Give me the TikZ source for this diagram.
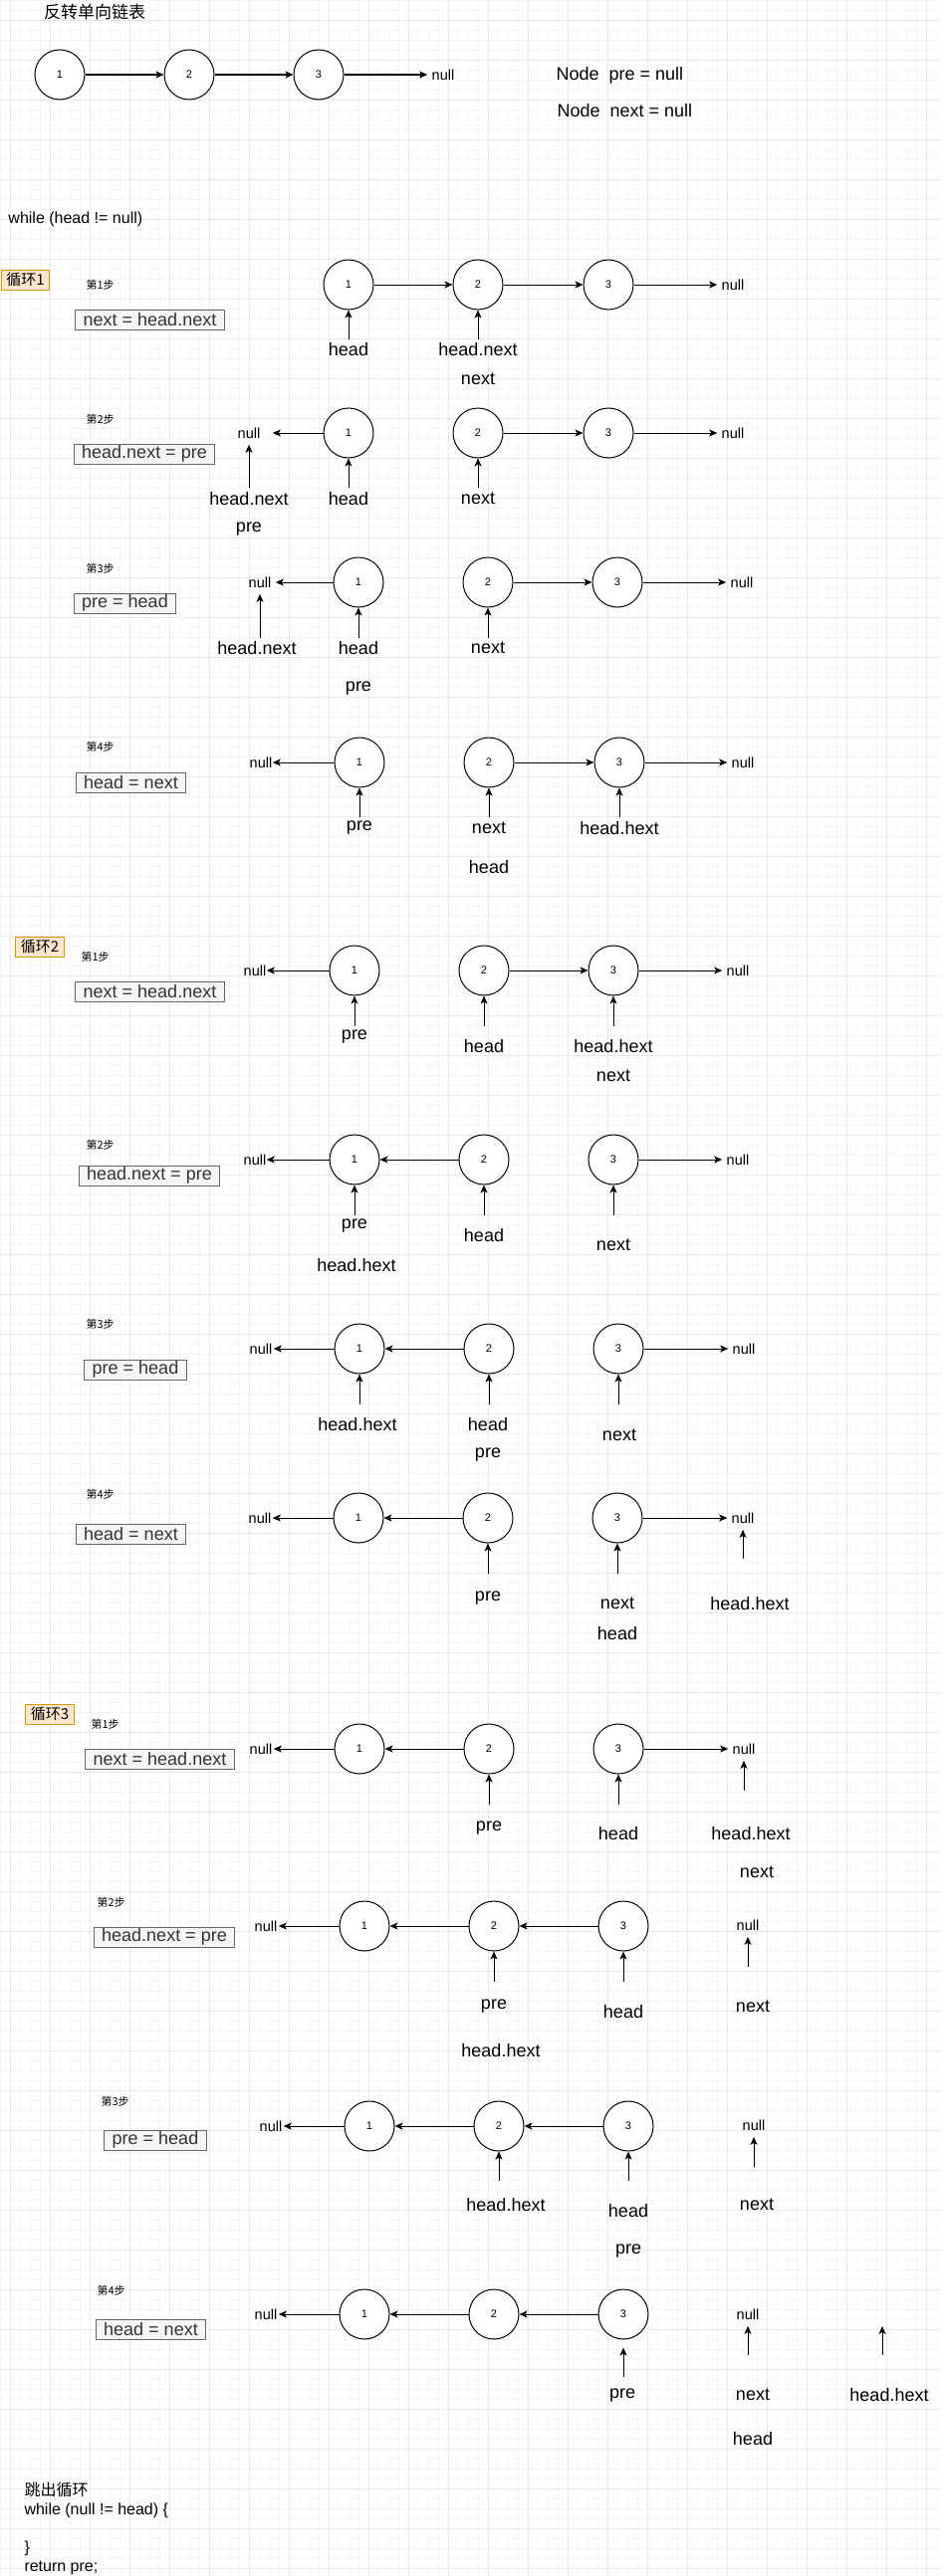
\documentclass[tikz,border=0pt]{standalone}
\usepackage{fontspec}
\setmainfont{Liberation Sans}
\newfontfamily\cjk{Noto Sans CJK SC}
\usetikzlibrary{arrows.meta}

\definecolor{gridminor}{HTML}{F5F5F5}
\definecolor{gridmajor}{HTML}{E8E8E8}
\definecolor{loopfill}{HTML}{FFE6CC}
\definecolor{loopline}{HTML}{D79B00}
\definecolor{codefill}{HTML}{F5F5F5}
\definecolor{codeline}{HTML}{666666}
\definecolor{codetext}{HTML}{333333}

\begin{document}
\begin{tikzpicture}[x=1pt, y=-1pt, line width=1pt,
    lnode/.style={circle, draw, fill=white, minimum size=50pt, inner sep=0pt, font=\fontsize{11}{13}\selectfont},
    link/.style={-{Stealth[length=8pt,width=7pt,inset=2pt]}},
    nullnode/.style={inner xsep=4pt, inner ysep=2pt, font=\fontsize{14.5}{17}\selectfont},
    lbl/.style={inner sep=1pt, font=\fontsize{18}{21}\selectfont},
    stepno/.style={anchor=west, inner sep=0pt, font=\cjk\fontsize{11}{13}\selectfont},
    codebox/.style={draw=codeline, fill=codefill, text=codetext, inner xsep=8pt, inner ysep=0pt, minimum height=20pt, font=\fontsize{18}{21}\selectfont},
    loopbox/.style={draw=loopline, fill=loopfill, inner xsep=5pt, inner ysep=0pt, minimum height=20pt, font=\cjk\fontsize{15}{18}\selectfont},
    plaintext/.style={anchor=west, inner sep=0pt, font=\fontsize{16}{19}\selectfont}]
    \useasboundingbox (0,0) rectangle (946,2588);

    % draw background grid
    \fill[white] (0,0) rectangle (946,2588);
    \foreach \gx in {0,10,...,940} \draw[gridminor, line width=0.6pt] (\gx,0) -- (\gx,2588);
    \foreach \gy in {0,10,...,2580} \draw[gridminor, line width=0.6pt] (0,\gy) -- (946,\gy);
    \foreach \gx in {10,50,...,930} \draw[gridmajor, line width=0.6pt] (\gx,0) -- (\gx,2588);
    \foreach \gy in {20,60,...,2580} \draw[gridmajor, line width=0.6pt] (0,\gy) -- (946,\gy);

    % draw title and start list
    \node[inner sep=0pt, font=\cjk\fontsize{17}{20}\selectfont] (title) at (95,12) {反转单向链表};
    \node[lnode] (c0a) at (60,75) {1};
    \node[lnode] (c0b) at (190,75) {2};
    \node[lnode] (c0c) at (320,75) {3};
    \node[nullnode] (c0null) at (445,75) {null};
    \draw[link] (c0a) -- (c0b);
    \draw[link] (c0b) -- (c0c);
    \draw[link] (c0c) -- (c0null);
    \node[plaintext, font=\fontsize{18}{21}\selectfont] (prevar) at (558,76) {Node\ \ pre = null};
    \node[plaintext, font=\fontsize{18}{21}\selectfont] (nextvar) at (559,111) {Node\ \ next = null};
    \node[plaintext] (whileln) at (8,220) {while (head != null)};

    % loop 1
    \node[loopbox] (loop1) at (25.5,281) {循环1};

    % loop 1, step 1
    \node[stepno] (l1s1no) at (86,286) {第1步};
    \node[codebox] (l1s1code) at (150.5,321) {next = head.next};
    \node[lnode] (l1s1a) at (350,286) {1};
    \node[lnode] (l1s1b) at (480,286) {2};
    \node[lnode] (l1s1c) at (611,286) {3};
    \node[nullnode] (l1s1nr) at (736,286) {null};
    \draw[link] (l1s1a) -- (l1s1b);
    \draw[link] (l1s1b) -- (l1s1c);
    \draw[link] (l1s1c) -- (l1s1nr);
    \draw[link] ([yshift=-29pt]l1s1a.south) -- (l1s1a.south);
    \draw[link] ([yshift=-29pt]l1s1b.south) -- (l1s1b.south);
    \node[lbl] (l1s1head) at (350,351) {head};
    \node[lbl] (l1s1hn) at (480,351) {head.next};
    \node[lbl] (l1s1next) at (480,381) {next};

    % loop 1, step 2
    \node[stepno] (l1s2no) at (86,421) {第2步};
    \node[codebox] (l1s2code) at (145,456) {head.next = pre};
    \node[nullnode] (l1s2nl) at (250,435) {null};
    \node[lnode] (l1s2a) at (350,435) {1};
    \node[lnode] (l1s2b) at (480,435) {2};
    \node[lnode] (l1s2c) at (611,435) {3};
    \node[nullnode] (l1s2nr) at (736,435) {null};
    \draw[link, shorten >=8pt] (l1s2a) -- (l1s2nl);
    \draw[link] (l1s2b) -- (l1s2c);
    \draw[link] (l1s2c) -- (l1s2nr);
    \draw[link, shorten >=4pt] ([yshift=-47pt]l1s2nl.south) -- (l1s2nl.south);
    \draw[link] ([yshift=-29pt]l1s2a.south) -- (l1s2a.south);
    \draw[link] ([yshift=-29pt]l1s2b.south) -- (l1s2b.south);
    \node[lbl] (l1s2hn) at (250,501) {head.next};
    \node[lbl] (l1s2head) at (350,501) {head};
    \node[lbl] (l1s2next) at (480,501) {next};
    \node[lbl] (l1s2pre) at (250,532) {pre};

    % loop 1, step 3
    \node[stepno] (l1s3no) at (86,571) {第3步};
    \node[codebox] (l1s3code) at (125.5,606) {pre = head};
    \node[nullnode] (l1s3nl) at (261,585) {null};
    \node[lnode] (l1s3a) at (360,585) {1};
    \node[lnode] (l1s3b) at (490,585) {2};
    \node[lnode] (l1s3c) at (620,585) {3};
    \node[nullnode] (l1s3nr) at (745,585) {null};
    \draw[link] (l1s3a) -- (l1s3nl);
    \draw[link] (l1s3b) -- (l1s3c);
    \draw[link] (l1s3c) -- (l1s3nr);
    \draw[link, shorten >=4pt] ([yshift=-48pt]l1s3nl.south) -- (l1s3nl.south);
    \draw[link] ([yshift=-30pt]l1s3a.south) -- (l1s3a.south);
    \draw[link] ([yshift=-30pt]l1s3b.south) -- (l1s3b.south);
    \node[lbl] (l1s3hn) at (258,651) {head.next};
    \node[lbl] (l1s3head) at (360,651) {head};
    \node[lbl] (l1s3next) at (490,651) {next};
    \node[lbl] (l1s3pre) at (360,692) {pre};

    % loop 1, step 4
    \node[stepno] (l1s4no) at (86,750) {第4步};
    \node[codebox] (l1s4code) at (131.5,786) {head = next};
    \node[nullnode] (l1s4nl) at (262,766) {null};
    \node[lnode] (l1s4a) at (361,766) {1};
    \node[lnode] (l1s4b) at (491,766) {2};
    \node[lnode] (l1s4c) at (622,766) {3};
    \node[nullnode] (l1s4nr) at (746,766) {null};
    \draw[link, shorten >=-4pt] (l1s4a) -- (l1s4nl);
    \draw[link] (l1s4b) -- (l1s4c);
    \draw[link] (l1s4c) -- (l1s4nr);
    \draw[link] ([yshift=-29pt]l1s4a.south) -- (l1s4a.south);
    \draw[link] ([yshift=-29pt]l1s4b.south) -- (l1s4b.south);
    \draw[link] ([yshift=-29pt]l1s4c.south) -- (l1s4c.south);
    \node[lbl] (l1s4pre) at (361,832) {pre};
    \node[lbl] (l1s4next) at (491,832) {next};
    \node[lbl] (l1s4hn) at (622,832) {head.hext};
    \node[lbl] (l1s4head) at (491,871) {head};

    % loop 2
    \node[loopbox] (loop2) at (40,951) {循环2};

    % loop 2, step 1
    \node[stepno] (l2s1no) at (81,961) {第1步};
    \node[codebox] (l2s1code) at (150.5,996) {next = head.next};
    \node[nullnode] (l2s1nl) at (256,975) {null};
    \node[lnode] (l2s1a) at (356,975) {1};
    \node[lnode] (l2s1b) at (486,975) {2};
    \node[lnode] (l2s1c) at (616,975) {3};
    \node[nullnode] (l2s1nr) at (741,975) {null};
    \draw[link, shorten >=-4pt] (l2s1a) -- (l2s1nl);
    \draw[link] (l2s1b) -- (l2s1c);
    \draw[link] (l2s1c) -- (l2s1nr);
    \draw[link] ([yshift=-30pt]l2s1a.south) -- (l2s1a.south);
    \draw[link] ([yshift=-30pt]l2s1b.south) -- (l2s1b.south);
    \draw[link] ([yshift=-30pt]l2s1c.south) -- (l2s1c.south);
    \node[lbl] (l2s1pre) at (356,1042) {pre};
    \node[lbl] (l2s1head) at (486,1051) {head};
    \node[lbl] (l2s1hn) at (616,1051) {head.hext};
    \node[lbl] (l2s1next) at (616,1081) {next};

    % loop 2, step 2
    \node[stepno] (l2s2no) at (86,1150) {第2步};
    \node[codebox] (l2s2code) at (150,1181) {head.next = pre};
    \node[nullnode] (l2s2nl) at (256,1165) {null};
    \node[lnode] (l2s2a) at (356,1165) {1};
    \node[lnode] (l2s2b) at (486,1165) {2};
    \node[lnode] (l2s2c) at (616,1165) {3};
    \node[nullnode] (l2s2nr) at (741,1165) {null};
    \draw[link, shorten >=-4pt] (l2s2a) -- (l2s2nl);
    \draw[link] (l2s2b) -- (l2s2a);
    \draw[link] (l2s2c) -- (l2s2nr);
    \draw[link] ([yshift=-30pt]l2s2a.south) -- (l2s2a.south);
    \draw[link] ([yshift=-30pt]l2s2b.south) -- (l2s2b.south);
    \draw[link] ([yshift=-30pt]l2s2c.south) -- (l2s2c.south);
    \node[lbl] (l2s2pre) at (356,1232) {pre};
    \node[lbl] (l2s2head) at (486,1241) {head};
    \node[lbl] (l2s2next) at (616,1251) {next};
    \node[lbl] (l2s2hn) at (358,1271) {head.hext};

    % loop 2, step 3
    \node[stepno] (l2s3no) at (86,1330) {第3步};
    \node[codebox] (l2s3code) at (136,1376) {pre = head};
    \node[nullnode] (l2s3nl) at (262,1355) {null};
    \node[lnode] (l2s3a) at (361,1355) {1};
    \node[lnode] (l2s3b) at (491,1355) {2};
    \node[lnode] (l2s3c) at (621,1355) {3};
    \node[nullnode] (l2s3nr) at (747,1355) {null};
    \draw[link, shorten >=-3pt] (l2s3a) -- (l2s3nl);
    \draw[link] (l2s3b) -- (l2s3a);
    \draw[link] (l2s3c) -- (l2s3nr);
    \draw[link] ([yshift=-30pt]l2s3a.south) -- (l2s3a.south);
    \draw[link] ([yshift=-30pt]l2s3b.south) -- (l2s3b.south);
    \draw[link] ([yshift=-30pt]l2s3c.south) -- (l2s3c.south);
    \node[lbl] (l2s3hn) at (359,1431) {head.hext};
    \node[lbl] (l2s3head) at (490,1431) {head};
    \node[lbl] (l2s3next) at (622,1442) {next};
    \node[lbl] (l2s3pre) at (490,1462) {pre};

    % loop 2, step 4
    \node[stepno] (l2s4no) at (86,1501) {第4步};
    \node[codebox] (l2s4code) at (131.5,1541) {head = next};
    \node[nullnode] (l2s4nl) at (261,1525) {null};
    \node[lnode] (l2s4a) at (360,1525) {1};
    \node[lnode] (l2s4b) at (490,1525) {2};
    \node[lnode] (l2s4c) at (620,1525) {3};
    \node[nullnode] (l2s4nr) at (746,1525) {null};
    \draw[link, shorten >=-3pt] (l2s4a) -- (l2s4nl);
    \draw[link] (l2s4b) -- (l2s4a);
    \draw[link] (l2s4c) -- (l2s4nr);
    \draw[link] ([yshift=-30pt]l2s4b.south) -- (l2s4b.south);
    \draw[link] ([yshift=-30pt]l2s4c.south) -- (l2s4c.south);
    \draw[link, shorten >=4pt] ([yshift=-33pt]l2s4nr.south) -- (l2s4nr.south);
    \node[lbl] (l2s4pre) at (490,1606) {pre};
    \node[lbl] (l2s4next) at (620,1611) {next};
    \node[lbl] (l2s4hn) at (753,1611) {head.hext};
    \node[lbl] (l2s4head) at (620,1641) {head};

    % loop 3
    \node[loopbox] (loop3) at (50,1722) {循环3};

    % loop 3, step 1
    \node[stepno] (l3s1no) at (91,1732) {第1步};
    \node[codebox] (l3s1code) at (160.5,1767) {next = head.next};
    \node[nullnode] (l3s1nl) at (262,1757) {null};
    \node[lnode] (l3s1a) at (361,1757) {1};
    \node[lnode] (l3s1b) at (491,1757) {2};
    \node[lnode] (l3s1c) at (621,1757) {3};
    \node[nullnode] (l3s1nr) at (747,1757) {null};
    \draw[link, shorten >=-3pt] (l3s1a) -- (l3s1nl);
    \draw[link] (l3s1b) -- (l3s1a);
    \draw[link] (l3s1c) -- (l3s1nr);
    \draw[link] ([yshift=-30pt]l3s1b.south) -- (l3s1b.south);
    \draw[link] ([yshift=-30pt]l3s1c.south) -- (l3s1c.south);
    \draw[link, shorten >=4pt] ([yshift=-34pt]l3s1nr.south) -- (l3s1nr.south);
    \node[lbl] (l3s1pre) at (491,1837) {pre};
    \node[lbl] (l3s1head) at (621,1842) {head};
    \node[lbl] (l3s1hn) at (754,1842) {head.hext};
    \node[lbl] (l3s1next) at (760,1881) {next};

    % loop 3, step 2
    \node[stepno] (l3s2no) at (97,1911) {第2步};
    \node[codebox] (l3s2code) at (165,1946) {head.next = pre};
    \node[nullnode] (l3s2nl) at (267,1935) {null};
    \node[lnode] (l3s2a) at (366,1935) {1};
    \node[lnode] (l3s2b) at (496,1935) {2};
    \node[lnode] (l3s2c) at (626,1935) {3};
    \node[nullnode] (l3s2nr) at (751,1934) {null};
    \draw[link, shorten >=-3pt] (l3s2a) -- (l3s2nl);
    \draw[link] (l3s2b) -- (l3s2a);
    \draw[link] (l3s2c) -- (l3s2b);
    \draw[link] ([yshift=-30pt]l3s2b.south) -- (l3s2b.south);
    \draw[link] ([yshift=-30pt]l3s2c.south) -- (l3s2c.south);
    \draw[link, shorten >=4pt] ([yshift=-34pt]l3s2nr.south) -- (l3s2nr.south);
    \node[lbl] (l3s2pre) at (496,2015) {pre};
    \node[lbl] (l3s2head) at (626,2021) {head};
    \node[lbl] (l3s2next) at (756,2016) {next};
    \node[lbl] (l3s2hn) at (503,2060) {head.hext};

    % loop 3, step 3
    \node[stepno] (l3s3no) at (101,2111) {第3步};
    \node[codebox] (l3s3code) at (156,2150) {pre = head};
    \node[nullnode] (l3s3nl) at (272,2136) {null};
    \node[lnode] (l3s3a) at (371,2136) {1};
    \node[lnode] (l3s3b) at (501,2136) {2};
    \node[lnode] (l3s3c) at (631,2136) {3};
    \node[nullnode] (l3s3nr) at (757,2135) {null};
    \draw[link, shorten >=-3pt] (l3s3a) -- (l3s3nl);
    \draw[link] (l3s3b) -- (l3s3a);
    \draw[link] (l3s3c) -- (l3s3b);
    \draw[link] ([yshift=-29pt]l3s3b.south) -- (l3s3b.south);
    \draw[link] ([yshift=-29pt]l3s3c.south) -- (l3s3c.south);
    \draw[link, shorten >=4pt] ([yshift=-34pt]l3s3nr.south) -- (l3s3nr.south);
    \node[lbl] (l3s3hn) at (508,2215) {head.hext};
    \node[lbl] (l3s3head) at (631,2221) {head};
    \node[lbl] (l3s3next) at (760,2215) {next};
    \node[lbl] (l3s3pre) at (631,2261) {pre};

    % loop 3, step 4
    \node[stepno] (l3s4no) at (97,2301) {第4步};
    \node[codebox] (l3s4code) at (151.5,2340.5) {head = next};
    \node[nullnode] (l3s4nl) at (267,2325) {null};
    \node[lnode] (l3s4a) at (366,2325) {1};
    \node[lnode] (l3s4b) at (496,2325) {2};
    \node[lnode] (l3s4c) at (626,2325) {3};
    \node[nullnode] (l3s4nr) at (751,2325) {null};
    \coordinate (l3s4free) at (886,2337);
    \draw[link, shorten >=-3pt] (l3s4a) -- (l3s4nl);
    \draw[link] (l3s4b) -- (l3s4a);
    \draw[link] (l3s4c) -- (l3s4b);
    \draw[link, shorten >=8pt] ([yshift=-37pt]l3s4c.south) -- (l3s4c.south);
    \draw[link, shorten >=4pt] ([yshift=-33pt]l3s4nr.south) -- (l3s4nr.south);
    \draw[link] ([yshift=-29pt]l3s4free) -- (l3s4free);
    \node[lbl] (l3s4pre) at (625,2406) {pre};
    \node[lbl] (l3s4next) at (756,2406) {next};
    \node[lbl] (l3s4hn) at (893,2406) {head.hext};
    \node[lbl] (l3s4head) at (756,2450) {head};

    % exit
    \node[plaintext, anchor=north west, align=left] (exitcode) at (24,2494)
        {{\cjk 跳出循环}\\while (null != head) \{\\[19pt]\}\\return pre;};
\end{tikzpicture}
\end{document}
